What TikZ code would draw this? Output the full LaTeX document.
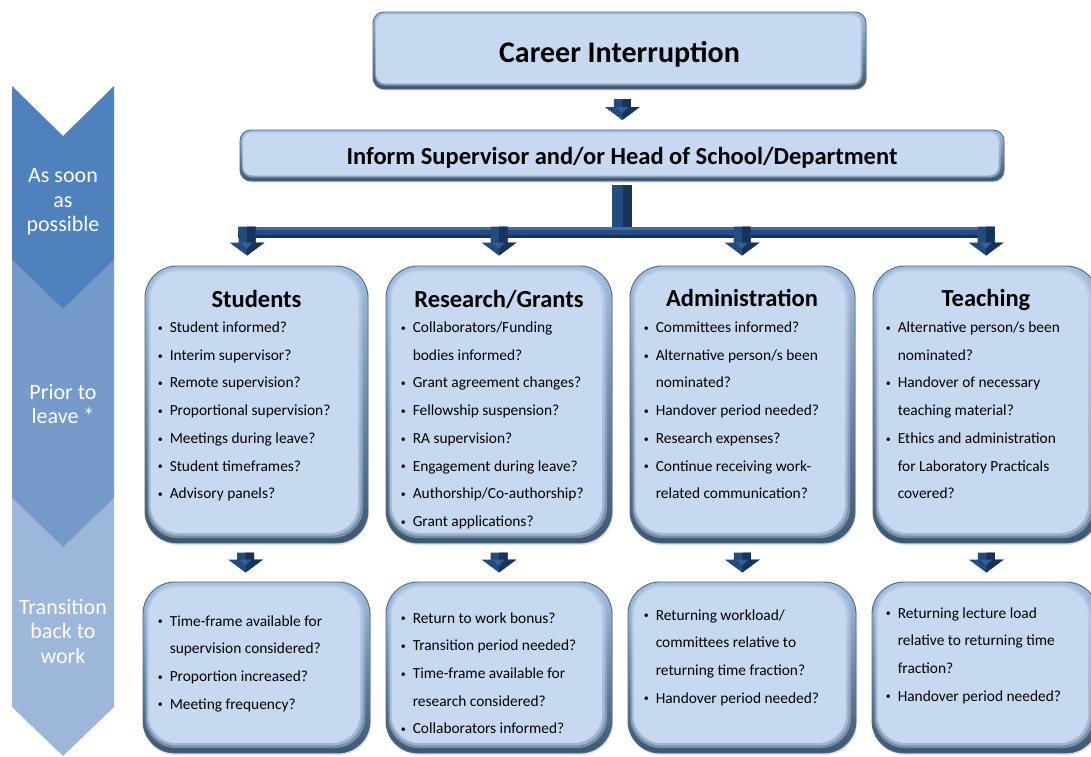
\documentclass[tikz,border=0pt]{standalone}
\usepackage{fontspec}
\setmainfont{Carlito}
\usetikzlibrary{calc,shadows}

\definecolor{face}{HTML}{C6D9F1}
\definecolor{rim}{HTML}{4A6887}
\definecolor{bevtop}{HTML}{A4BFE0}
\definecolor{bevbot}{HTML}{3E566F}
\definecolor{navy}{HTML}{244B7E}
\definecolor{navydark}{HTML}{18335A}
\definecolor{navylight}{HTML}{3E6CA6}
\definecolor{chevA}{HTML}{4F81BD}
\definecolor{chevB}{HTML}{7599C8}
\definecolor{chevC}{HTML}{9DB7DA}

% one inset layer of the bevelled face, drawn inside a path picture
\newcommand\bevellayer[5]{%
  \fill[#1, rounded corners=#2]
    ([shift={(#3,-#3)}]path picture bounding box.north west) rectangle
    ([shift={(-#4,#5)}]path picture bounding box.south east);}

% bullet lists: one row per printed line
\newcommand\bul{\makebox[12.5pt][l]{\hspace{0.5pt}\raisebox{1.2pt}{\fontsize{10}{10}\selectfont\textbullet}}}
\newcommand\ind{\hspace*{12.5pt}}
\newcommand\itemlist[1]{\vtop{\baselineskip=27.7pt\lineskiplimit=-30pt\lineskip=0pt
  \halign{##\hfil\cr#1\crcr}}}

\begin{document}
\begin{tikzpicture}[x=1pt,y=-1pt,
  bigpanel/.style={rounded corners=32pt, draw=rim, line width=0.9pt,
    top color=bevtop, bottom color=bevbot, inner sep=0pt,
    drop shadow={shadow xshift=1pt, shadow yshift=-2pt, opacity=0.22},
    path picture={%
      \bevellayer{face!55!bevtop, opacity=0.45}{30pt}{2.5pt}{5pt}{5pt}
      \bevellayer{face, opacity=0.5}{29pt}{4pt}{7.5pt}{7.5pt}
      \bevellayer{face}{28pt}{5.5pt}{10pt}{10pt}}},
  slimpanel/.style={rounded corners=11pt, draw=rim, line width=0.9pt,
    top color=bevtop, bottom color=bevbot, inner sep=0pt,
    drop shadow={shadow xshift=1pt, shadow yshift=-1.5pt, opacity=0.22},
    path picture={%
      \bevellayer{face, opacity=0.5}{10pt}{2pt}{3.5pt}{3.5pt}
      \bevellayer{face}{9pt}{3pt}{5.5pt}{5.5pt}}},
  phase/.style={text=white, align=center, inner sep=0pt,
    font=\fontsize{22}{24.5}\selectfont},
  heading/.style={anchor=base, inner sep=0pt,
    font=\bfseries\fontsize{24.5}{28}\selectfont},
  items/.style={anchor=base west, inner sep=0pt,
    font=\fontsize{15.4}{27.7}\selectfont},
  downarrow/.pic={
    \fill[navy] (-8.5,0) -- (8.5,0) -- (8.5,#1) -- (17.5,#1) -- (0,#1+13)
      -- (-17.5,#1) -- (-8.5,#1) -- cycle;
    \fill[navydark] (0,0) -- (8.5,0) -- (8.5,#1) -- (17.5,#1) -- (0,#1+13) -- cycle;
    \fill[navylight, opacity=0.7] (-6,#1) -- (6,#1) -- (0,#1+6) -- cycle;}
]
\useasboundingbox (0,0) rectangle (1091,756);
\fill[white] (0,0) rectangle (1091,756);

% phase chevrons on the left
\fill[chevC] (12,498) -- (63,547) -- (114,498) -- (114,707) -- (63,756) -- (12,707) -- cycle;
\fill[chevB] (12,260) -- (63,309) -- (114,260) -- (114,498) -- (63,547) -- (12,498) -- cycle;
\fill[chevA] (12,86) -- (63,136) -- (114,86) -- (114,260) -- (63,309) -- (12,260) -- cycle;
\node[phase] (p1) at (63,202) {As soon\\as\\possible};
\node[phase] (p2) at (63,404) {Prior to\\leave *};
\node[phase] (p3) at (63,631) {Transition\\back to\\work};

% top of the flow
\node[slimpanel, minimum width=493pt, minimum height=77pt, text height=24.4pt, text depth=0pt,
  font=\bfseries\fontsize{30}{36}\selectfont] (ci) at (619.5,50.5) {Career Interruption};
\node[slimpanel, minimum width=764pt, minimum height=51pt, text height=18.8pt, text depth=0pt,
  font=\bfseries\fontsize{24.5}{28}\selectfont] (inform) at (622,155.5)
  {Inform Supervisor and/or Head of School/Department};
\pic at ($(ci.south)!0.5!(inform.north)+(1.5,-10.5)$) {downarrow=8};

% category panels
\node[bigpanel, minimum width=223pt, minimum height=277pt] (stu) at (256.5,404.5) {};
\node[bigpanel, minimum width=226pt, minimum height=277pt] (res) at (499,404.5) {};
\node[bigpanel, minimum width=225pt, minimum height=277pt] (adm) at (742.5,404.5) {};
\node[bigpanel, minimum width=225pt, minimum height=277pt] (tea) at (985.5,404.5) {};

% return-to-work panels
\node[bigpanel, minimum width=227pt, minimum height=171pt] (stuB) at (256.5,667.5) {};
\node[bigpanel, minimum width=226pt, minimum height=171pt] (resB) at (499,667.5) {};
\node[bigpanel, minimum width=228pt, minimum height=171pt] (admB) at (742,667.5) {};
\node[bigpanel, minimum width=226pt, minimum height=171pt] (teaB) at (985,667.5) {};

% distribution bus from the inform panel
\coordinate (hub) at ($(inform.south)+(0,4)$);
\coordinate (busL) at ($(stu.north)+(-18.5,-39)$);
\coordinate (busR) at ($(tea.north)+(9.5,-28)$);
\fill[navy] ($(hub)+(-10,0)$) rectangle ($(hub)+(10,53)$);
\fill[navydark] ($(hub)+(1,0)$) rectangle ($(hub)+(10,53)$);
\fill[navy] (busL) rectangle (busR);
\fill[navylight] (busL) rectangle ($(busR)+(0,-8)$);
\fill[navydark] ($(busL)+(0,8)$) rectangle (busR);
\pic at ($(stu.north)+(-9.5,-39)$) {downarrow=16};
\pic at ($(res.north)+(0,-39)$) {downarrow=16};
\pic at ($(adm.north)+(-0.5,-39)$) {downarrow=16};
\pic at ($(tea.north)+(0.5,-39)$) {downarrow=16};

% arrows between the two rows
\pic at ($(stu.south)!0.5!(stuB.north)+(-11,-10)$) {downarrow=7};
\pic at ($(res.south)!0.5!(resB.north)+(0,-10)$) {downarrow=7};
\pic at ($(adm.south)!0.5!(admB.north)+(0,-10)$) {downarrow=7};
\pic at ($(tea.south)!0.5!(teaB.north)+(1,-10)$) {downarrow=7};

% headings
\node[heading] (stuT) at ($(stu.north)+(0,42)$) {Students};
\node[heading] (resT) at ($(res.north)+(0,42)$) {Research/Grants};
\node[heading] (admT) at ($(adm.north)-(0.5,0)+(0,41)$) {Administration};
\node[heading] (teaT) at ($(tea.north)+(0.5,41)$) {Teaching};

% lists before leave
\node[items] (stuL) at ($(stu.north west)+(12.5,67)$) {\itemlist{%
\bul Student informed?\cr
\bul Interim supervisor?\cr
\bul Remote supervision?\cr
\bul Proportional supervision?\cr
\bul Meetings during leave?\cr
\bul Student timeframes?\cr
\bul Advisory panels?\cr}};
\node[items] (resL) at ($(res.north west)+(14.5,67)$) {\itemlist{%
\bul Collaborators/Funding\cr
\ind bodies informed?\cr
\bul Grant agreement changes?\cr
\bul Fellowship suspension?\cr
\bul RA supervision?\cr
\bul Engagement during leave?\cr
\bul Authorship/Co-authorship?\cr
\bul Grant applications?\cr}};
\node[items] (admL) at ($(adm.north west)+(13.5,67)$) {\itemlist{%
\bul Committees informed?\cr
\bul Alternative person/s been\cr
\ind nominated?\cr
\bul Handover period needed?\cr
\bul Research expenses?\cr
\bul Continue receiving work-\cr
\ind related communication?\cr}};
\node[items] (teaL) at ($(tea.north west)+(12.5,67)$) {\itemlist{%
\bul Alternative person/s been\cr
\ind nominated?\cr
\bul Handover of necessary\cr
\ind teaching material?\cr
\bul Ethics and administration\cr
\ind for Laboratory Practicals\cr
\ind covered?\cr}};

% lists on return
\node[items] (stuBL) at ($(stuB.north west)+(14.5,44.5)$) {\itemlist{%
\bul Time-frame available for\cr
\ind supervision considered?\cr
\bul Proportion increased?\cr
\bul Meeting frequency?\cr}};
\node[items] (resBL) at ($(resB.north west)+(14.5,41.5)$) {\itemlist{%
\bul Return to work bonus?\cr
\bul Transition period needed?\cr
\bul Time-frame available for\cr
\ind research considered?\cr
\bul Collaborators informed?\cr}};
\node[items] (admBL) at ($(admB.north west)+(15.5,38.5)$) {\itemlist{%
\bul Returning workload/\cr
\ind committees relative to\cr
\ind returning time fraction?\cr
\bul Handover period needed?\cr}};
\node[items] (teaBL) at ($(teaB.north west)+(13.5,36.5)$) {\itemlist{%
\bul Returning lecture load\cr
\ind relative to returning time\cr
\ind fraction?\cr
\bul Handover period needed?\cr}};
\end{tikzpicture}
\end{document}
